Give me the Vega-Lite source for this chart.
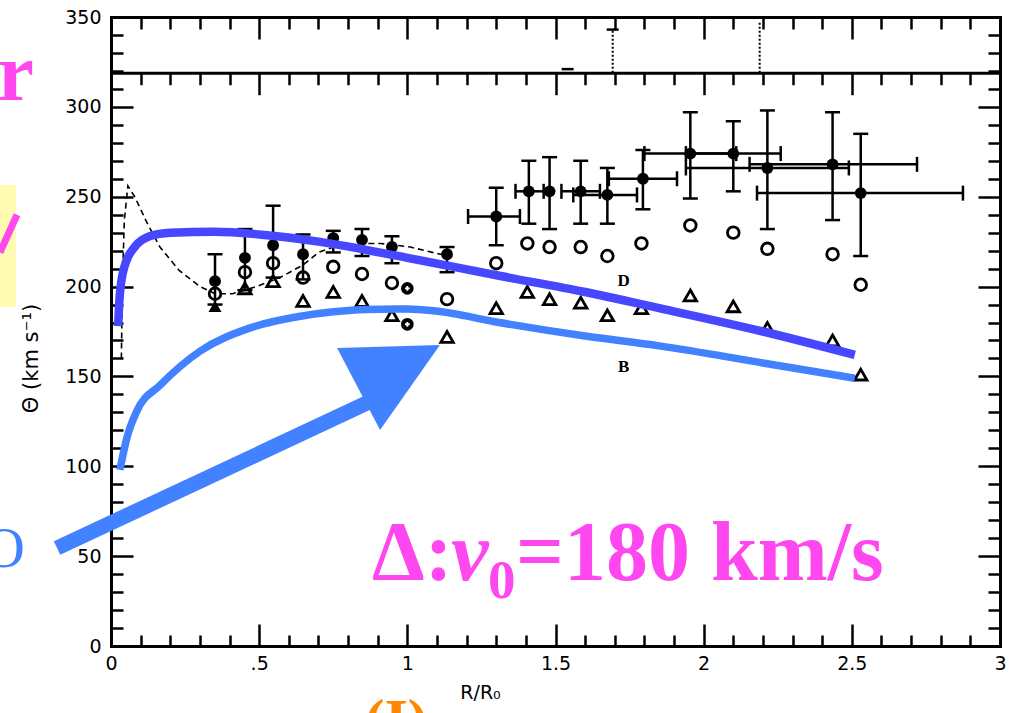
{
  "$schema": "https://vega.github.io/schema/vega-lite/v6.json",
  "width": 889,
  "height": 629,
  "autosize": "none",
  "padding": {"left": 111, "top": 17, "right": 11, "bottom": 67},
  "background": "white",
  "config": {
    "view": {"stroke": null},
    "axis": {
      "domainColor": "#000", "domainWidth": 3, "domainCap": "square",
      "tickColor": "#000", "tickWidth": 2.5,
      "labelColor": "#000", "labelFont": "DejaVu Sans", "labelFontSize": 19,
      "titleFont": "DejaVu Sans", "titleColor": "#000", "titleFontWeight": "normal",
      "grid": false
    }
  },
  "datasets": {
    "filled": [
      {"r": 0.351, "v": 203, "lo": 190, "hi": 218},
      {"r": 0.452, "v": 216, "lo": 198, "hi": 232},
      {"r": 0.547, "v": 223, "lo": 205, "hi": 245},
      {"r": 0.648, "v": 218, "lo": 204, "hi": 229},
      {"r": 0.75, "v": 227, "lo": 219, "hi": 231},
      {"r": 0.847, "v": 226, "lo": 217, "hi": 232},
      {"r": 0.948, "v": 222, "lo": 213, "hi": 228},
      {"r": 1.134, "v": 218, "lo": 208, "hi": 222},
      {"r": 1.3, "v": 239, "lo": 223, "hi": 255, "xlo": 1.205, "xhi": 1.38},
      {"r": 1.41, "v": 253, "lo": 235, "hi": 270, "xlo": 1.365, "xhi": 1.46},
      {"r": 1.48, "v": 253, "lo": 232, "hi": 272},
      {"r": 1.585, "v": 253, "lo": 235, "hi": 270, "xlo": 1.52, "xhi": 1.65},
      {"r": 1.675, "v": 251, "lo": 235, "hi": 266, "xlo": 1.56, "xhi": 1.775},
      {"r": 1.795, "v": 260, "lo": 243, "hi": 276, "xlo": 1.68, "xhi": 1.91},
      {"r": 1.955, "v": 274, "lo": 249, "hi": 297, "xlo": 1.8, "xhi": 2.11},
      {"r": 2.1, "v": 274, "lo": 253, "hi": 292, "xlo": 1.94, "xhi": 2.26},
      {"r": 2.215, "v": 266, "lo": 232, "hi": 298, "xlo": 1.94, "xhi": 2.49},
      {"r": 2.435, "v": 268, "lo": 237, "hi": 297, "xlo": 2.155, "xhi": 2.72},
      {"r": 2.53, "v": 252, "lo": 217, "hi": 285, "xlo": 2.18, "xhi": 2.875}
    ],
    "open": [
      {"r": 0.351, "v": 196}, {"r": 0.452, "v": 208}, {"r": 0.547, "v": 213},
      {"r": 0.648, "v": 205}, {"r": 0.75, "v": 211}, {"r": 0.847, "v": 207},
      {"r": 0.948, "v": 202}, {"r": 1.134, "v": 193}, {"r": 1.3, "v": 213},
      {"r": 1.405, "v": 224}, {"r": 1.48, "v": 222}, {"r": 1.585, "v": 222},
      {"r": 1.675, "v": 217}, {"r": 1.79, "v": 224}, {"r": 1.955, "v": 234},
      {"r": 2.1, "v": 230}, {"r": 2.215, "v": 221}, {"r": 2.435, "v": 218},
      {"r": 2.53, "v": 201}
    ],
    "tri": [
      {"r": 0.452, "v": 199}, {"r": 0.547, "v": 203}, {"r": 0.648, "v": 192},
      {"r": 0.75, "v": 197}, {"r": 0.847, "v": 192}, {"r": 0.948, "v": 184},
      {"r": 1.134, "v": 172}, {"r": 1.3, "v": 188}, {"r": 1.405, "v": 197},
      {"r": 1.48, "v": 193}, {"r": 1.585, "v": 191}, {"r": 1.675, "v": 184},
      {"r": 1.79, "v": 188}, {"r": 1.955, "v": 195}, {"r": 2.1, "v": 189},
      {"r": 2.215, "v": 177}, {"r": 2.435, "v": 170}, {"r": 2.53, "v": 151}
    ],
    "triFilled": [{"r": 0.351, "v": 189}],
    "cross": [{"r": 1.0, "v": 199}, {"r": 1.0, "v": 179}],
    "model": [
      {"r": 0.035, "v": 160}, {"r": 0.037, "v": 185}, {"r": 0.04, "v": 210},
      {"r": 0.045, "v": 237}, {"r": 0.057, "v": 256}, {"r": 0.08, "v": 250},
      {"r": 0.12, "v": 236}, {"r": 0.165, "v": 222}, {"r": 0.23, "v": 209},
      {"r": 0.3, "v": 200}, {"r": 0.351, "v": 196}, {"r": 0.41, "v": 196},
      {"r": 0.49, "v": 200}, {"r": 0.57, "v": 205}, {"r": 0.648, "v": 212},
      {"r": 0.7, "v": 219}, {"r": 0.75, "v": 222}, {"r": 0.85, "v": 224},
      {"r": 0.91, "v": 224}, {"r": 1.01, "v": 222}, {"r": 1.11, "v": 218},
      {"r": 1.15, "v": 218}
    ],
    "curveD": [
      {"r": 0.024, "v": 178}, {"r": 0.03, "v": 196}, {"r": 0.047, "v": 212},
      {"r": 0.08, "v": 222}, {"r": 0.13, "v": 228}, {"r": 0.2, "v": 230},
      {"r": 0.35, "v": 230.5}, {"r": 0.5, "v": 229}, {"r": 0.7, "v": 225},
      {"r": 1.0, "v": 216}, {"r": 1.31, "v": 206}, {"r": 1.6, "v": 197},
      {"r": 1.85, "v": 188}, {"r": 2.2, "v": 175}, {"r": 2.51, "v": 162}
    ],
    "curveB": [
      {"r": 0.03, "v": 98}, {"r": 0.054, "v": 116}, {"r": 0.088, "v": 131},
      {"r": 0.165, "v": 145}, {"r": 0.3, "v": 164}, {"r": 0.47, "v": 177},
      {"r": 0.64, "v": 183.5}, {"r": 0.75, "v": 186}, {"r": 0.86, "v": 187.3},
      {"r": 1.0, "v": 187.5}, {"r": 1.09, "v": 186.5}, {"r": 1.31, "v": 180},
      {"r": 1.6, "v": 172.5}, {"r": 1.85, "v": 167}, {"r": 2.2, "v": 157.5},
      {"r": 2.51, "v": 149}
    ],
    "strip": [
      {"r": 1.693, "lo": 319, "hi": 343},
      {"r": 2.189, "lo": 319, "hi": 347}
    ],
    "stripMarks": [{"r": 1.693, "v": 343}, {"r": 1.541, "v": 321}],
    "curveNames": [
      {"r": 1.73, "v": 203, "lbl": "D"},
      {"r": 1.73, "v": 155, "lbl": "B"}
    ],
    "arrowHead": [
      {"r": 0.763, "top": 165.8, "bot": 165.8},
      {"r": 0.908, "top": 166.5, "bot": 120.2},
      {"r": 1.11, "top": 167.5, "bot": 167.5}
    ]
  },
  "resolve": {"axis": {"x": "independent", "y": "independent"}},
  "layer": [
    {
      "data": {"name": "model"},
      "mark": {"type": "line", "color": "#000", "strokeWidth": 1.6, "strokeDash": [6, 4]},
      "encoding": {
        "x": {"field": "r", "type": "quantitative", "scale": {"domain": [0, 3], "nice": false, "zero": false},
          "axis": {"orient": "bottom", "values": [0, 0.5, 1, 1.5, 2, 2.5, 3], "tickSize": -22, "labelPadding": 30,
            "labelFlush": false, "labelExpr": "datum.value == 0.5 ? '.5' : format(datum.value, '~g')",
            "title": "R/R₀", "titleX": 369, "titleY": 46, "titleBaseline": "middle", "titleAlign": "center", "titleFontSize": 19}},
        "y": {"field": "v", "type": "quantitative", "scale": {"domain": [0, 350], "nice": false, "zero": false},
          "axis": {"orient": "left", "values": [0, 50, 100, 150, 200, 250, 300, 350], "tickSize": -22, "labelPadding": 32,
            "title": "Θ (km s⁻¹)", "titleX": -80, "titleY": 341, "titleAngle": -90, "titleBaseline": "middle",
            "titleAlign": "center", "titleFontSize": 21}}
      }
    },
    {
      "data": {"name": "filled"},
      "mark": {"type": "rule", "color": "#000", "strokeWidth": 2.5},
      "encoding": {
        "x": {"field": "r", "type": "quantitative", "scale": {"domain": [0, 3], "nice": false, "zero": false},
          "axis": {"orient": "bottom", "values": [0.1, 0.2, 0.3, 0.4, 0.6, 0.7, 0.8, 0.9, 1.1, 1.2, 1.3, 1.4, 1.6, 1.7, 1.8, 1.9, 2.1, 2.2, 2.3, 2.4, 2.6, 2.7, 2.8, 2.9],
            "tickSize": -11, "labels": false, "domain": false, "title": null}},
        "y": {"field": "lo", "type": "quantitative", "scale": {"domain": [0, 350], "nice": false, "zero": false},
          "axis": {"orient": "left", "values": [10, 20, 30, 40, 60, 70, 80, 90, 110, 120, 130, 140, 160, 170, 180, 190, 210, 220, 230, 240, 260, 270, 280, 290, 310, 320, 330, 340],
            "tickSize": -12, "labels": false, "domain": false, "title": null}},
        "y2": {"field": "hi"}
      }
    },
    {
      "data": {"name": "filled"},
      "transform": [{"fold": ["lo", "hi"], "as": ["end", "yv"]}],
      "mark": {"type": "tick", "orient": "horizontal", "size": 15, "thickness": 2.5, "color": "#000", "opacity": 1},
      "encoding": {
        "x": {"field": "r", "type": "quantitative", "scale": {"domain": [0, 3], "nice": false, "zero": false},
          "axis": {"orient": "top", "values": [0.5, 1, 1.5, 2, 2.5], "tickSize": -22, "labels": false, "title": null}},
        "y": {"field": "yv", "type": "quantitative", "scale": {"domain": [0, 350], "nice": false, "zero": false},
          "axis": {"orient": "right", "values": [50, 100, 150, 200, 250, 300], "tickSize": -22, "labels": false, "title": null}}
      }
    },
    {
      "data": {"name": "filled"},
      "transform": [{"filter": "isValid(datum.xlo)"}],
      "mark": {"type": "rule", "color": "#000", "strokeWidth": 2.5},
      "encoding": {
        "x": {"field": "xlo", "type": "quantitative", "scale": {"domain": [0, 3], "nice": false, "zero": false},
          "axis": {"orient": "top", "values": [0.1, 0.2, 0.3, 0.4, 0.6, 0.7, 0.8, 0.9, 1.1, 1.2, 1.3, 1.4, 1.6, 1.7, 1.8, 1.9, 2.1, 2.2, 2.3, 2.4, 2.6, 2.7, 2.8, 2.9],
            "tickSize": -12, "labels": false, "domain": false, "title": null}},
        "x2": {"field": "xhi"},
        "y": {"field": "v", "type": "quantitative", "scale": {"domain": [0, 350], "nice": false, "zero": false},
          "axis": {"orient": "right", "values": [10, 20, 30, 40, 60, 70, 80, 90, 110, 120, 130, 140, 160, 170, 180, 190, 210, 220, 230, 240, 260, 270, 280, 290, 310, 320, 330, 340],
            "tickSize": -12, "labels": false, "domain": false, "title": null}}
      }
    },
    {
      "data": {"name": "filled"},
      "transform": [{"filter": "isValid(datum.xlo)"}, {"fold": ["xlo", "xhi"], "as": ["end", "xv"]}],
      "mark": {"type": "tick", "orient": "vertical", "size": 15, "thickness": 2.5, "color": "#000", "opacity": 1},
      "encoding": {
        "x": {"field": "xv", "type": "quantitative", "scale": {"domain": [0, 3], "nice": false, "zero": false},
          "axis": {"orient": "top", "offset": -55.7, "values": [0.5, 1, 1.5, 2, 2.5], "tickSize": -22, "labels": false, "title": null}},
        "y": {"field": "v", "type": "quantitative", "axis": null}
      }
    },
    {
      "data": {"name": "strip"},
      "mark": {"type": "rule", "color": "#000", "strokeWidth": 2, "strokeDash": [2, 2]},
      "encoding": {
        "x": {"field": "r", "type": "quantitative", "scale": {"domain": [0, 3], "nice": false, "zero": false},
          "axis": {"orient": "top", "offset": -55.7, "values": [0.1, 0.2, 0.3, 0.4, 0.6, 0.7, 0.8, 0.9, 1.1, 1.2, 1.3, 1.4, 1.6, 1.7, 1.8, 1.9, 2.1, 2.2, 2.3, 2.4, 2.6, 2.7, 2.8, 2.9],
            "tickSize": -12, "labels": false, "domain": false, "title": null}},
        "y": {"field": "lo", "type": "quantitative", "axis": null},
        "y2": {"field": "hi"}
      }
    },
    {
      "data": {"name": "stripMarks"},
      "mark": {"type": "tick", "orient": "horizontal", "size": 12, "thickness": 2.5, "color": "#000", "opacity": 1},
      "encoding": {
        "x": {"field": "r", "type": "quantitative", "axis": null},
        "y": {"field": "v", "type": "quantitative", "axis": null}
      }
    },
    {
      "data": {"name": "filled"},
      "mark": {"type": "point", "shape": "circle", "filled": true, "color": "#000", "opacity": 1, "size": 140},
      "encoding": {
        "x": {"field": "r", "type": "quantitative", "axis": null},
        "y": {"field": "v", "type": "quantitative", "axis": null}
      }
    },
    {
      "data": {"name": "open"},
      "mark": {"type": "point", "shape": "circle", "filled": false, "color": "#000", "opacity": 1, "size": 135, "strokeWidth": 2.8},
      "encoding": {
        "x": {"field": "r", "type": "quantitative", "axis": null},
        "y": {"field": "v", "type": "quantitative", "axis": null}
      }
    },
    {
      "data": {"name": "tri"},
      "mark": {"type": "point", "shape": "triangle-up", "filled": false, "color": "#000", "opacity": 1, "size": 155, "strokeWidth": 2.8},
      "encoding": {
        "x": {"field": "r", "type": "quantitative", "axis": null},
        "y": {"field": "v", "type": "quantitative", "axis": null}
      }
    },
    {
      "data": {"name": "triFilled"},
      "mark": {"type": "point", "shape": "triangle-up", "filled": true, "color": "#000", "opacity": 1, "size": 170},
      "encoding": {
        "x": {"field": "r", "type": "quantitative", "axis": null},
        "y": {"field": "v", "type": "quantitative", "axis": null}
      }
    },
    {
      "data": {"name": "cross"},
      "mark": {"type": "point", "shape": "circle", "filled": true, "color": "#000", "opacity": 1, "size": 160},
      "encoding": {
        "x": {"field": "r", "type": "quantitative", "axis": null},
        "y": {"field": "v", "type": "quantitative", "axis": null}
      }
    },
    {
      "data": {"name": "cross"},
      "mark": {"type": "point", "shape": "cross", "filled": true, "color": "#fff", "opacity": 1, "size": 22},
      "encoding": {
        "x": {"field": "r", "type": "quantitative", "axis": null},
        "y": {"field": "v", "type": "quantitative", "axis": null}
      }
    },
    {
      "data": {"name": "curveNames"},
      "mark": {"type": "text", "font": "Liberation Serif", "fontSize": 17, "fontWeight": "bold", "color": "#000", "align": "center", "baseline": "middle"},
      "encoding": {
        "x": {"field": "r", "type": "quantitative", "axis": null},
        "y": {"field": "v", "type": "quantitative", "axis": null},
        "text": {"field": "lbl"}
      }
    },
    {
      "data": {"name": "curveD"},
      "mark": {"type": "line", "color": "#4747ff", "strokeWidth": 8.5, "interpolate": "monotone", "strokeCap": "butt"},
      "encoding": {
        "x": {"field": "r", "type": "quantitative", "axis": null},
        "y": {"field": "v", "type": "quantitative", "axis": null}
      }
    },
    {
      "data": {"name": "curveB"},
      "mark": {"type": "line", "color": "#4281ff", "strokeWidth": 7.5, "interpolate": "monotone", "strokeCap": "butt"},
      "encoding": {
        "x": {"field": "r", "type": "quantitative", "axis": null},
        "y": {"field": "v", "type": "quantitative", "axis": null}
      }
    },
    {
      "data": {"values": [{}]},
      "mark": {"type": "rule", "color": "#4281ff", "strokeWidth": 15, "strokeCap": "butt"},
      "encoding": {
        "x": {"datum": -0.182, "type": "quantitative", "axis": null},
        "y": {"datum": 54.5, "type": "quantitative", "axis": null},
        "x2": {"datum": 0.958},
        "y2": {"datum": 142.5}
      }
    },
    {
      "data": {"name": "arrowHead"},
      "mark": {"type": "area", "color": "#4281ff", "opacity": 1},
      "encoding": {
        "x": {"field": "r", "type": "quantitative", "axis": null},
        "y": {"field": "top", "type": "quantitative", "axis": null},
        "y2": {"field": "bot"}
      }
    },
    {
      "data": {"values": [{}]},
      "mark": {"type": "rect", "color": "#fffbb0"},
      "encoding": {
        "x": {"datum": -0.375, "type": "quantitative", "axis": null},
        "x2": {"datum": -0.321},
        "y": {"datum": 188.6, "type": "quantitative", "axis": null},
        "y2": {"datum": 256.5}
      }
    },
    {
      "data": {"values": [{}]},
      "mark": {"type": "rule", "color": "#ff47ef", "strokeWidth": 7, "strokeCap": "butt"},
      "encoding": {
        "x": {"datum": -0.375, "type": "quantitative", "axis": null},
        "y": {"datum": 219, "type": "quantitative", "axis": null},
        "x2": {"datum": -0.317},
        "y2": {"datum": 240}
      }
    },
    {
      "data": {"values": [{}]},
      "mark": {"type": "text", "text": "r", "font": "Liberation Serif", "fontWeight": "bold", "fontSize": 82, "color": "#ff47ef", "align": "right", "baseline": "alphabetic"},
      "encoding": {
        "x": {"datum": -0.26, "type": "quantitative", "axis": null},
        "y": {"datum": 303.8, "type": "quantitative", "axis": null}
      }
    },
    {
      "data": {"values": [{}]},
      "mark": {"type": "text", "text": "O", "font": "Liberation Serif", "fontSize": 58, "color": "#4281ff", "align": "center", "baseline": "alphabetic"},
      "encoding": {
        "x": {"datum": -0.361, "type": "quantitative", "axis": null},
        "y": {"datum": 44, "type": "quantitative", "axis": null}
      }
    },
    {
      "data": {"values": [{}]},
      "mark": {"type": "text", "text": "(I)", "font": "Liberation Serif", "fontWeight": "bold", "fontSize": 60, "color": "#ff8800", "align": "center", "baseline": "top"},
      "encoding": {
        "x": {"datum": 0.962, "type": "quantitative", "axis": null},
        "y": {"datum": -26.2, "type": "quantitative", "axis": null}
      }
    },
    {
      "data": {"values": [{}]},
      "mark": {"type": "text", "text": "Δ:", "font": "Liberation Serif", "fontWeight": "bold", "fontSize": 84, "color": "#ff47ef", "align": "left", "baseline": "alphabetic"},
      "encoding": {
        "x": {"datum": 0.881, "type": "quantitative", "axis": null},
        "y": {"datum": 36.5, "type": "quantitative", "axis": null}
      }
    },
    {
      "data": {"values": [{}]},
      "mark": {"type": "text", "text": "v", "font": "Liberation Serif", "fontWeight": "bold", "fontStyle": "italic", "fontSize": 84, "color": "#ff47ef", "align": "left", "baseline": "alphabetic"},
      "encoding": {
        "x": {"datum": 1.148, "type": "quantitative", "axis": null},
        "y": {"datum": 36.5, "type": "quantitative", "axis": null}
      }
    },
    {
      "data": {"values": [{}]},
      "mark": {"type": "text", "text": "0", "font": "Liberation Serif", "fontWeight": "bold", "fontSize": 55, "color": "#ff47ef", "align": "left", "baseline": "alphabetic"},
      "encoding": {
        "x": {"datum": 1.272, "type": "quantitative", "axis": null},
        "y": {"datum": 26.5, "type": "quantitative", "axis": null}
      }
    },
    {
      "data": {"values": [{}]},
      "mark": {"type": "text", "text": "=180 km/s", "font": "Liberation Serif", "fontWeight": "bold", "fontSize": 84, "color": "#ff47ef", "align": "left", "baseline": "alphabetic"},
      "encoding": {
        "x": {"datum": 1.367, "type": "quantitative", "axis": null},
        "y": {"datum": 36.5, "type": "quantitative", "axis": null}
      }
    }
  ]
}
